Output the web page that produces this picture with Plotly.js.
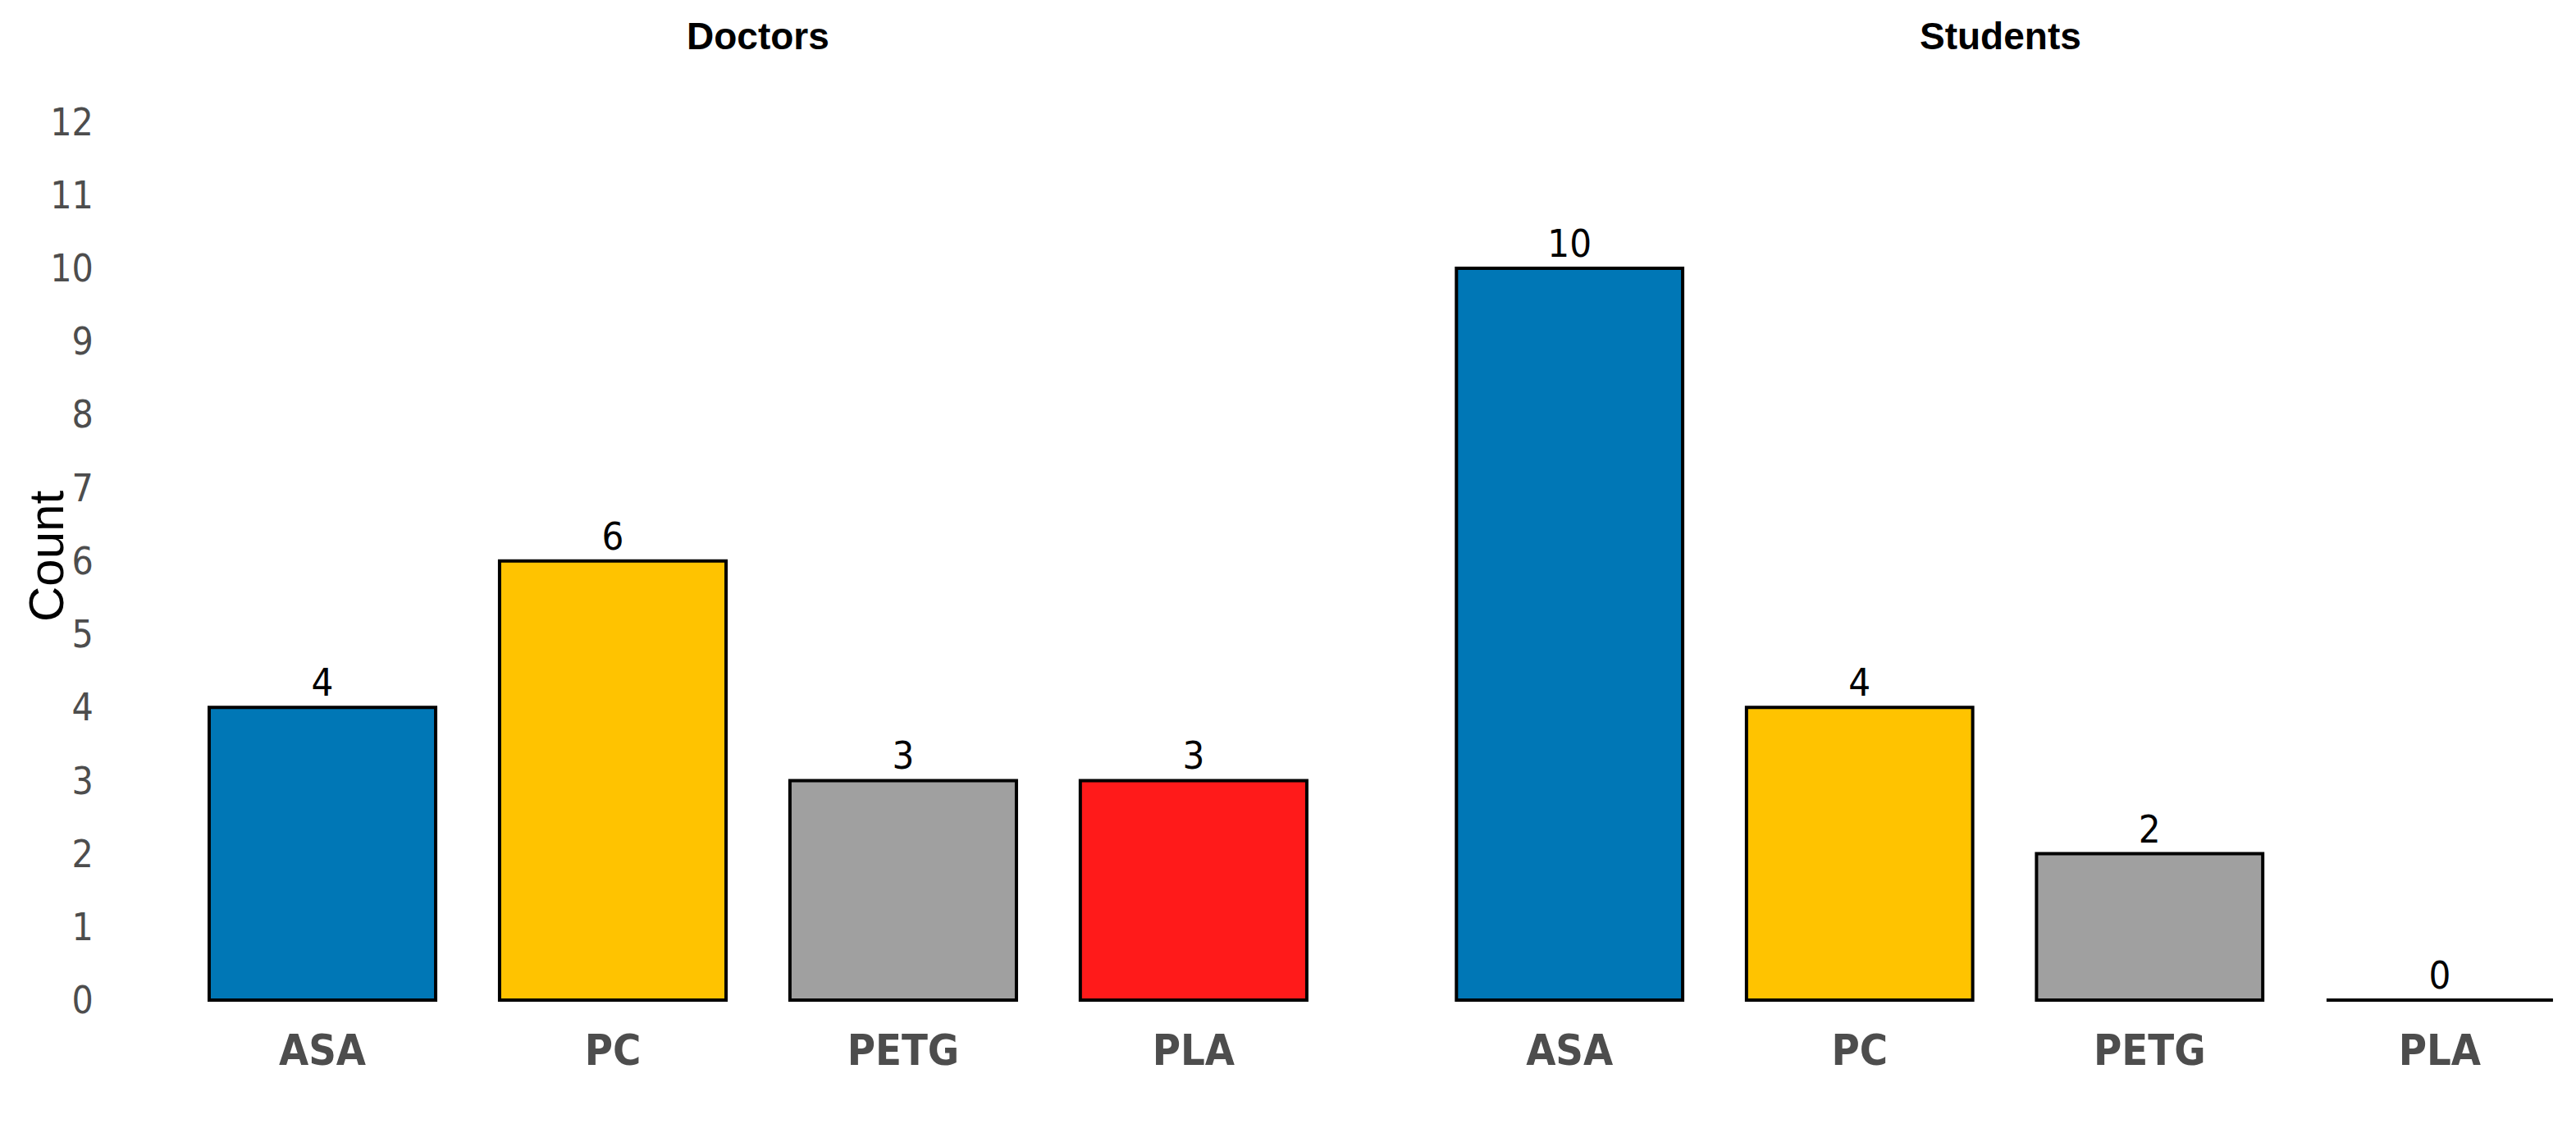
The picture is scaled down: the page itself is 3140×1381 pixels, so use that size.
<!DOCTYPE html>
<html>
<head>
<meta charset="utf-8">
<script src="https://cdn.plot.ly/plotly-3.0.1.min.js"></script>
<style>
  html, body { margin: 0; padding: 0; background: #fff; }
  #chart { width: 3140px; height: 1381px; }
</style>
</head>
<body>
<div id="chart"></div>
<script>
// 数据
const materials = ['ASA', 'PC', 'PETG', 'PLA'];
const doctorsCounts = [4, 6, 3, 3];
const studentsCounts = [10, 4, 2, 0];
const groupNames = ['Doctors', 'Students'];
const barColors = ['#0077B6', '#FFC300', '#A0A0A0', '#FF1A1A'];
const yTicks = [0, 1, 2, 3, 4, 5, 6, 7, 8, 9, 10, 11, 12];

const narrow = '"Liberation Sans Narrow", "Arial Narrow", "DejaVu Sans Condensed", sans-serif';
const regular = '"Liberation Sans", Arial, sans-serif';
const BAR_WIDTH = 0.78;

function makeBars(counts, xaxis) {
    return {
        type: 'bar',
        x: materials,
        y: counts,
        xaxis: xaxis,
        yaxis: 'y',
        width: BAR_WIDTH,
        marker: {
            color: barColors,
            line: { color: '#000000', width: 4 }
        },
        text: counts.map(String),
        textposition: 'outside',
        cliponaxis: false,
        textfont: { family: narrow, size: 47, color: '#000000' },
        hoverinfo: 'x+y',
        showlegend: false
    };
}

const data = [
    makeBars(doctorsCounts, 'x'),
    makeBars(studentsCounts, 'x2')
];

// 零值柱子只画一条黑线（Plotly 会把零高度柱子压成细线）
const zeroLines = [];
[[doctorsCounts, 'x'], [studentsCounts, 'x2']].forEach(([counts, xref]) => {
    counts.forEach((v, i) => {
        if (v === 0) {
            zeroLines.push({
                type: 'line',
                xref: xref,
                yref: 'y',
                x0: i - BAR_WIDTH / 2,
                x1: i + BAR_WIDTH / 2,
                y0: v,
                y1: v,
                line: { color: '#000000', width: 4 }
            });
        }
    });
});

// x 轴公共设置
function catAxis(domain, range) {
    return {
        domain: domain,
        type: 'category',
        range: range,
        showgrid: false,
        zeroline: false,
        showline: false,
        ticks: 'outside',
        ticklen: 12,
        tickcolor: 'rgba(0,0,0,0)',
        tickfont: { family: narrow, size: 52, color: '#4D4D4D', weight: 'bold' },
        fixedrange: true
    };
}

const layout = {
    width: 3140,
    height: 1381,
    margin: { l: 0, r: 0, t: 0, b: 0 },
    paper_bgcolor: '#ffffff',
    plot_bgcolor: '#ffffff',
    xaxis: catAxis([0.0688, 0.5197], [-0.5, 3.5]),
    xaxis2: Object.assign(catAxis([0.553, 1.0], [-0.5, 3.47]), { anchor: 'y' }),
    yaxis: {
        domain: [0.1147, 0.9312],
        range: [-0.04, 12.6],
        tickvals: yTicks,
        showgrid: false,
        zeroline: false,
        showline: false,
        ticks: 'outside',
        ticklen: 92,
        tickcolor: 'rgba(0,0,0,0)',
        tickfont: { family: narrow, size: 46, color: '#4D4D4D' },
        fixedrange: true
    },
    shapes: zeroLines,
    annotations: groupNames.map((name, i) => ({
        text: '<b>' + name + '</b>',
        xref: (i === 0 ? 'x' : 'x2') + ' domain',
        yref: 'paper',
        x: 0.5,
        y: 1 - 44 / 1381,
        xanchor: 'center',
        yanchor: 'middle',
        showarrow: false,
        font: { family: regular, size: 46, color: '#000000' }
    })).concat([{
        text: 'Count',
        textangle: -90,
        xref: 'paper',
        yref: 'paper',
        x: 56 / 3140,
        y: 1 - 678 / 1381,
        xanchor: 'center',
        yanchor: 'middle',
        showarrow: false,
        font: { family: regular, size: 60, color: '#000000' }
    }]),
    font: { family: regular, color: '#000000' }
};

Plotly.newPlot('chart', data, layout, { displayModeBar: false, staticPlot: true });
</script>
</body>
</html>
